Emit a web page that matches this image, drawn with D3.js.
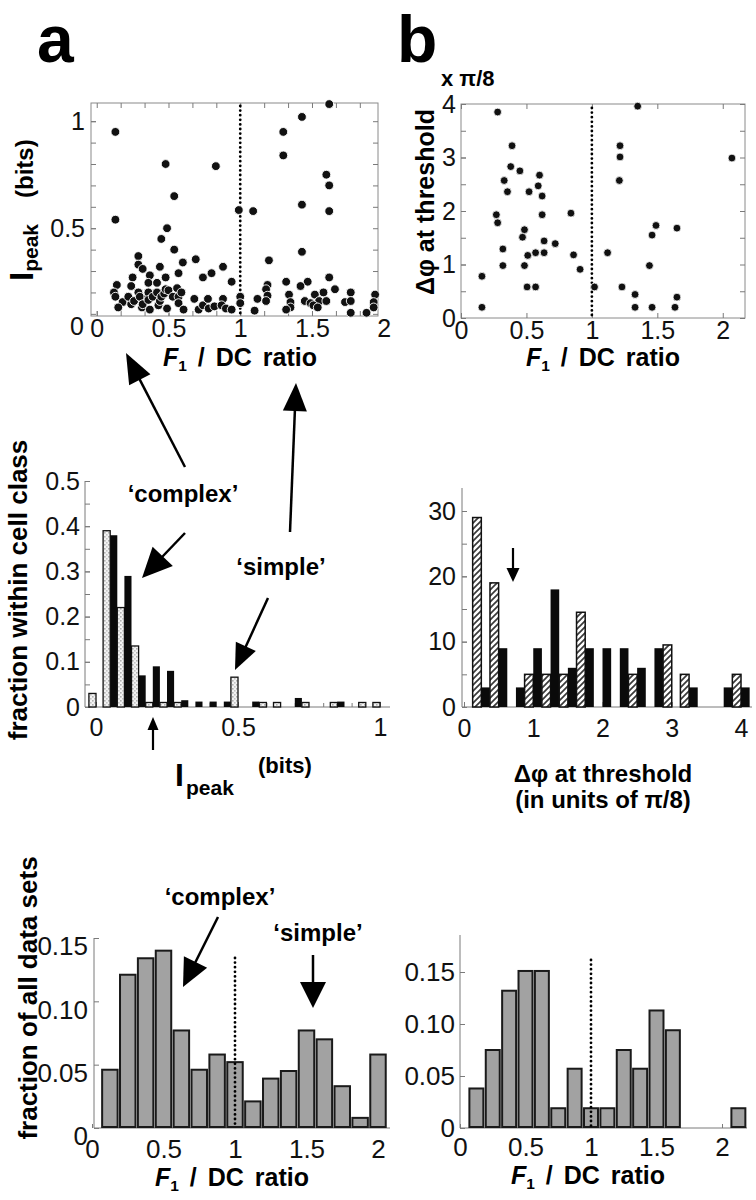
<!DOCTYPE html>
<html><head><meta charset="utf-8">
<script src="https://cdn.jsdelivr.net/npm/d3@7"></script>
<style>body{margin:0;background:#fff}svg{display:block}</style>
</head><body>
<svg id="fig" width="756" height="1200"></svg>
<script>
// ---------------- DATA ----------------
// Panel a (top): F1/DC ratio vs I_peak (bits)
const a1Ratio = [0.13,0.13,0.48,0.83,0.54,0.49,0.45,0.54,0.29,0.29,0.32,0.44,0.60,0.69,0.57,0.25,0.37,0.48,0.74,0.80,0.88,0.94,
  0.99,1.09,1.30,1.30,1.43,1.62,1.60,1.62,1.62,1.43,1.43,1.20,1.62,1.47,1.42,1.32,1.19,1.18,1.66,1.77,1.94,1.58,1.52,1.34,1.19,
  1.12,1.18,1.45,1.49,1.55,1.60,1.51,1.54,1.35,1.35,1.32,1.00,1.00,1.10,1.73,1.77,1.77,1.88,1.93,1.93,
  0.14,0.12,0.13,0.18,0.15,0.24,0.22,0.24,0.26,0.29,0.30,0.315,0.32,0.36,0.36,0.36,0.36,0.37,0.39,0.42,0.42,0.43,0.44,0.45,
  0.47,0.48,0.49,0.50,0.53,0.56,0.57,0.57,0.59,0.605,0.68,0.71,0.74,0.775,0.78,0.82,0.88,0.87,0.90,0.94];
const a1Ipeak = [0.95,0.54,0.80,0.79,0.65,0.50,0.45,0.40,0.37,0.33,0.31,0.32,0.34,0.355,0.29,0.27,0.28,0.27,0.27,0.29,0.32,0.25,
  0.585,0.58,0.95,0.84,1.02,1.08,0.75,0.70,0.58,0.61,0.39,0.35,0.27,0.25,0.23,0.25,0.235,0.215,0.215,0.20,0.19,0.20,0.19,0.19,0.185,
  0.17,0.16,0.16,0.15,0.16,0.16,0.14,0.13,0.155,0.13,0.12,0.18,0.15,0.115,0.155,0.16,0.105,0.105,0.155,0.13,
  0.235,0.20,0.18,0.155,0.13,0.145,0.18,0.23,0.16,0.20,0.18,0.13,0.145,0.18,0.20,0.165,0.245,0.12,0.18,0.20,0.245,0.14,0.16,0.18,
  0.195,0.215,0.125,0.21,0.18,0.22,0.18,0.15,0.20,0.12,0.17,0.12,0.14,0.17,0.125,0.135,0.17,0.14,0.125,0.12];

// Panel b (top): F1/DC ratio vs delta-phi at threshold (x pi/8)
const b1Ratio = [0.16,0.16,0.28,0.27,0.28,0.32,0.32,0.33,0.355,0.39,0.38,0.45,0.47,0.485,0.485,0.505,0.51,0.52,0.57,0.57,
  0.59,0.60,0.62,0.62,0.635,0.635,0.72,0.84,0.86,0.91,1.02,1.12,1.21,1.215,1.215,1.23,1.35,1.33,1.33,1.44,1.46,1.49,1.46,
  1.65,1.65,1.635,2.07];
const b1Dphi = [0.2,0.78,3.85,1.93,1.78,1.29,0.98,2.57,2.36,3.22,2.83,2.75,1.51,1.65,0.98,0.58,1.17,2.36,0.58,1.22,
  2.47,2.67,2.28,1.93,1.44,1.22,1.39,1.96,1.18,0.91,0.58,1.22,2.57,3.01,3.22,0.58,3.96,0.44,0.2,0.98,1.55,1.73,0.2,
  1.68,0.39,0.2,2.99];

// Panel a (middle): I_peak histogram, fraction within cell class
const ipeakBins = [0,0.05,0.1,0.15,0.2,0.25,0.3,0.35,0.4,0.45,0.5,0.55,0.6,0.65,0.7,0.75,0.8,0.85,0.9,0.95,1.0];
const ipeakSimple  = [0.03,0.39,0.22,0.135,0.01,0.01,0.01,0,0,0,0.066,0,0.01,0.01,0,0.01,0,0.01,0,0.01,0.01];
const ipeakComplex = [0,0.38,0.29,0.07,0.09,0.08,0.015,0.012,0.012,0.012,0,0.012,0,0,0.02,0,0,0.012,0,0,0];

// Panel b (middle): delta-phi histogram (units of pi/8)
const dphiBins = [0.25,0.5,0.75,1,1.25,1.5,1.75,2,2.25,2.5,2.75,3,3.25,3.5,3.75,4];
const dphiSimple  = [29,19,0,5,5,5,14.5,0,0,5,0,9.5,5,0,0,5];
const dphiComplex = [3,9,3,9,18,6,9,9,9,6,9,0,3,0,3,3];

// Panel a (bottom): F1/DC ratio histogram, fraction of all data sets
const f1AllBins = [0.125,0.25,0.375,0.5,0.625,0.75,0.875,1,1.125,1.25,1.375,1.5,1.625,1.75,1.875,2];
const f1AllFrac = [0.046,0.121,0.134,0.140,0.077,0.046,0.058,0.052,0.021,0.039,0.045,0.077,0.070,0.033,0.008,0.058];

// Panel b (bottom): F1/DC ratio histogram
const f1SubBins = [0.125,0.25,0.375,0.5,0.625,0.75,0.875,1,1.125,1.25,1.375,1.5,1.625,1.75,1.875,2,2.125];
const f1SubFrac = [0.038,0.075,0.132,0.151,0.151,0.019,0.057,0.019,0.019,0.075,0.057,0.113,0.094,0,0,0,0.019];

// Tick labels
const tickRatio = [0,0.5,1,1.5,2];
const tickIpeakY = [0.5,1];
const tickDphiY = [0,1,2,3,4];
const tickFracY = [0,0.1,0.2,0.3,0.4,0.5];
const tickIpeakX = [0,0.5,1];
const tickCountY = [0,10,20,30];
const tickDphiX = [0,1,2,3,4];
const tickFrac3 = [0,0.05,0.10,0.15];

// ---------------- DRAW ----------------
const FONT = '"Liberation Sans", Arial, Helvetica, sans-serif';
const svg = d3.select('#fig').attr('font-family', FONT);
const defs = svg.append('defs');
const sp = defs.append('pattern').attr('id','speck').attr('patternUnits','userSpaceOnUse').attr('width',4).attr('height',4);
sp.append('rect').attr('width',4).attr('height',4).attr('fill','#f2f2f2');
sp.append('rect').attr('width',1.6).attr('height',1.6).attr('fill','#b0b0b0');
sp.append('rect').attr('x',2).attr('y',2).attr('width',1.6).attr('height',1.6).attr('fill','#c4c4c4');
const hp = defs.append('pattern').attr('id','hatch').attr('patternUnits','userSpaceOnUse').attr('width',6).attr('height',6);
hp.append('rect').attr('width',6).attr('height',6).attr('fill','#fff');
hp.append('path').attr('d','M-1,1L1,-1M0,6L6,0M5,7L7,5').attr('stroke','#3a3a3a').attr('stroke-width',1.7);

const AX = '#7a7a7a';
function axis(gen, transform, values, inner, pad, fmt, fs, hideVals) {
  const a = svg.append('g').attr('transform', transform)
    .call(gen.tickValues(values).tickSizeInner(inner).tickSizeOuter(0).tickPadding(pad).tickFormat(fmt));
  a.select('.domain').remove();
  a.selectAll('line').attr('stroke', AX).attr('stroke-width', 1);
  a.selectAll('text').attr('font-size', fs).attr('fill', '#111').attr('font-family', FONT);
  if (hideVals) a.selectAll('.tick').filter(d => hideVals.includes(d)).select('line').remove();
  return a;
}
const blank = () => '';
function hline(x1, x2, y) { svg.append('line').attr('x1',x1).attr('x2',x2).attr('y1',y).attr('y2',y).attr('stroke',AX).attr('stroke-width',1); }
function vline(x, y1, y2) { svg.append('line').attr('x1',x).attr('x2',x).attr('y1',y1).attr('y2',y2).attr('stroke',AX).attr('stroke-width',1); }
function dotted(x, y1, y2) {
  svg.append('line').attr('x1',x).attr('x2',x).attr('y1',y1).attr('y2',y2)
    .attr('stroke','#000').attr('stroke-width',2.8).attr('stroke-linecap','round').attr('stroke-dasharray','0 4.6');
}
const ann = svg.append('g').attr('class','annotations');
function arrow(x1, y1, x2, y2, hl, hw, lw) {
  const dx = x2 - x1, dy = y2 - y1, L = Math.hypot(dx, dy), ux = dx / L, uy = dy / L;
  const bx = x2 - ux * hl, by = y2 - uy * hl;
  ann.append('line').attr('x1',x1).attr('y1',y1).attr('x2',bx + ux*2).attr('y2',by + uy*2).attr('stroke','#000').attr('stroke-width',lw);
  ann.append('path').attr('d',`M${x2},${y2}L${bx - uy*hw/2},${by + ux*hw/2}L${bx + uy*hw/2},${by - ux*hw/2}Z`).attr('fill','#000');
}
function boldText(x, y, str, fs, anchor) {
  return svg.append('text').attr('x',x).attr('y',y).attr('font-size',fs).attr('font-weight','bold')
    .attr('text-anchor',anchor || 'middle').attr('fill','#000').text(str);
}
function f1Title(cx, y, fs) {
  const t = svg.append('text').attr('x',cx).attr('y',y).attr('font-size',fs).attr('font-weight','bold')
    .attr('text-anchor','middle').attr('fill','#000').attr('word-spacing', 4);
  t.append('tspan').attr('font-style','italic').text('F');
  t.append('tspan').attr('font-size', fs*0.62).attr('dy', 5).text('1');
  t.append('tspan').attr('dy', -5).text('\u00a0/ DC ratio');
}

// Panel letters
boldText(37, 62, 'a', 66, 'start');
boldText(397, 62, 'b', 66, 'start');

// ===== Panel a top: scatter =====
{
  const x = d3.scaleLinear().domain([-0.04, 1.96]).range([91, 378]);
  const y = d3.scaleLinear().domain([0.09, 1.085]).range([316, 103]);
  svg.append('rect').attr('x',91).attr('y',103).attr('width',287).attr('height',213)
    .attr('fill','none').attr('stroke','#8a8a8a').attr('stroke-width',1);
  const yMinor = d3.range(0.1, 1.05, 0.1);
  axis(d3.axisLeft(y), 'translate(91,0)', yMinor, -5, 0, blank, 1);
  axis(d3.axisRight(y), 'translate(378,0)', yMinor, -5, 0, blank, 1);
  const xMinor = d3.range(0, 1.95, 1/6);
  axis(d3.axisBottom(x), 'translate(0,316)', xMinor, -5, 0, blank, 1);
  axis(d3.axisTop(x), 'translate(0,103)', xMinor, -5, 0, blank, 1);
  axis(d3.axisLeft(y), 'translate(91,0)', tickIpeakY, -5, 6, d => String(d), 25);
  axis(d3.axisBottom(x), 'translate(0,316)', tickRatio, -5, 3, d => String(d), 25, [2]);
  svg.append('text').attr('x', 84).attr('y', 335).attr('font-size',25).attr('text-anchor','end').attr('fill','#111').text('0');
  dotted(x(1), 106, 314);
  svg.append('g').selectAll('circle').data(a1Ratio).join('circle')
    .attr('cx', d => x(d)).attr('cy', (d, i) => y(a1Ipeak[i])).attr('r', 4.4)
    .attr('fill', '#111').attr('stroke', '#fff').attr('stroke-width', 0.9);
  const t = svg.append('text').attr('transform','translate(33,281) rotate(-90)').attr('font-weight','bold').attr('fill','#000');
  t.append('tspan').attr('font-size',33).text('I');
  t.append('tspan').attr('font-size',21).attr('dy',5).text('peak');
  t.append('tspan').attr('font-size',24).attr('x',83).attr('dy',-5).text('(bits)');
  f1Title(240, 366, 25);
}

// ===== Panel b top: scatter =====
{
  const x = d3.scaleLinear().domain([0, 2.17]).range([461, 745]);
  const y = d3.scaleLinear().domain([0, 4]).range([318, 104]);
  svg.append('rect').attr('x',461).attr('y',104).attr('width',284).attr('height',214)
    .attr('fill','none').attr('stroke','#8a8a8a').attr('stroke-width',1);
  const yMinor = d3.range(0, 4.01, 0.5);
  axis(d3.axisRight(y), 'translate(745,0)', yMinor, -5, 0, blank, 1);
  axis(d3.axisLeft(y), 'translate(461,0)', yMinor, -5, 0, blank, 1);
  axis(d3.axisTop(x), 'translate(0,104)', tickRatio, -5, 0, blank, 1);
  axis(d3.axisLeft(y), 'translate(461,0)', tickDphiY, -5, 5, d => String(d), 25);
  axis(d3.axisBottom(x), 'translate(0,318)', tickRatio, -5, 3, d => String(d), 25);
  dotted(x(1), 108, 316);
  svg.append('g').selectAll('circle').data(b1Ratio).join('circle')
    .attr('cx', d => x(d)).attr('cy', (d, i) => y(b1Dphi[i])).attr('r', 3.9)
    .attr('fill', '#111').attr('stroke', '#fff').attr('stroke-width', 0.8);
  svg.append('text').attr('transform','translate(434,202) rotate(-90)').attr('text-anchor','middle')
    .attr('font-size',25).attr('font-weight','bold').attr('fill','#000').text('\u0394\u03c6 at threshold');
  boldText(441, 86, 'x \u03c0/8', 22, 'start');
  f1Title(603, 366, 25);
}

// ===== Panel a middle: I_peak histogram =====
{
  const x = d3.scaleLinear().domain([0, 1]).range([96, 380]);
  const y = d3.scaleLinear().domain([0, 0.5]).range([707, 481]);
  const hw = 0.025;
  vline(85, 481, 707); hline(85, 390, 707);
  axis(d3.axisLeft(y), 'translate(85,0)', d3.range(0, 0.51, 0.05), -5, 0, blank, 1);
  axis(d3.axisLeft(y), 'translate(85,0)', tickFracY, -5, 5, d => String(d), 25);
  axis(d3.axisBottom(x), 'translate(0,707)', d3.range(0, 1.01, 0.1), -4, 0, blank, 1);
  axis(d3.axisBottom(x), 'translate(0,707)', tickIpeakX, -5, 11, d => String(d), 25);
  const g = svg.append('g');
  ipeakBins.forEach((b, i) => {
    if (ipeakSimple[i] > 0) g.append('rect').attr('x', x(b - hw)).attr('width', x(b) - x(b - hw))
      .attr('y', y(ipeakSimple[i])).attr('height', y(0) - y(ipeakSimple[i]))
      .attr('fill','url(#speck)').attr('stroke','#111').attr('stroke-width',1.3);
    if (ipeakComplex[i] > 0) g.append('rect').attr('x', x(b)).attr('width', x(b + hw) - x(b))
      .attr('y', y(ipeakComplex[i])).attr('height', y(0) - y(ipeakComplex[i])).attr('fill','#0a0a0a');
  });
  svg.append('text').attr('transform','translate(27,590) rotate(-90)').attr('text-anchor','middle')
    .attr('font-size',26).attr('font-weight','bold').attr('fill','#000').text('fraction within cell class');
  boldText(175, 786, 'I', 32, 'start');
  boldText(186, 795, 'peak', 21, 'start');
  boldText(258, 773, '(bits)', 22, 'start');
  boldText(183, 502, '\u2018complex\u2019', 24);
  boldText(281, 575, '\u2018simple\u2019', 24);
}

// ===== Panel b middle: delta-phi histogram =====
{
  const x = d3.scaleLinear().domain([0, 4]).range([464, 741]);
  const y = d3.scaleLinear().domain([0, 30]).range([707, 511]);
  const hw = 0.125;
  vline(462, 488, 707); hline(462, 752, 707);
  axis(d3.axisLeft(y), 'translate(462,0)', d3.range(0, 31, 5), -5, 0, blank, 1);
  axis(d3.axisLeft(y), 'translate(462,0)', tickCountY, -5, 6, d => String(d), 25);
  axis(d3.axisBottom(x), 'translate(0,707)', tickDphiX, -5, 12, d => String(d), 25);
  const g = svg.append('g');
  dphiBins.forEach((b, i) => {
    if (dphiSimple[i] > 0) g.append('rect').attr('x', x(b - hw)).attr('width', x(b) - x(b - hw))
      .attr('y', y(dphiSimple[i])).attr('height', y(0) - y(dphiSimple[i]))
      .attr('fill','url(#hatch)').attr('stroke','#111').attr('stroke-width',1.5);
    if (dphiComplex[i] > 0) g.append('rect').attr('x', x(b)).attr('width', x(b + hw) - x(b))
      .attr('y', y(dphiComplex[i])).attr('height', y(0) - y(dphiComplex[i])).attr('fill','#0a0a0a');
  });
  boldText(603, 782, '\u0394\u03c6 at threshold', 24);
  boldText(603, 808, '(in units of \u03c0/8)', 24);
}

// ===== Panel a bottom: F1/DC histogram =====
{
  const x = d3.scaleLinear().domain([0, 2]).range([92, 378]);
  const y = d3.scaleLinear().domain([0, 0.15]).range([1128, 938]);
  const bw = 0.125;
  vline(94, 938, 1128); hline(94, 390, 1128);
  const ya = axis(d3.axisLeft(y), 'translate(94,0)', tickFrac3, -5, 6, d => d === 0 ? '0' : d3.format('.2f')(d), 26);
  ya.selectAll('text').attr('dy', '0.65em');
  axis(d3.axisBottom(x), 'translate(0,1128)', tickRatio, -4, 12, d => String(d), 26);
  svg.append('g').selectAll('rect').data(f1AllBins).join('rect')
    .attr('x', d => x(d - bw/2) + 1.2).attr('width', d => x(d + bw/2) - x(d - bw/2) - 2.4)
    .attr('y', (d, i) => y(f1AllFrac[i])).attr('height', (d, i) => y(0) - y(f1AllFrac[i]) - 1)
    .attr('fill','#a2a2a2').attr('stroke','#1a1a1a').attr('stroke-width',2);
  dotted(x(1), 958, 1126);
  svg.append('text').attr('transform','translate(37,998) rotate(-90)').attr('text-anchor','middle')
    .attr('font-size',26).attr('font-weight','bold').attr('fill','#000').text('fraction of all data sets');
  boldText(220, 905, '\u2018complex\u2019', 24);
  boldText(318, 941, '\u2018simple\u2019', 24);
  f1Title(232, 1186, 25);
}

// ===== Panel b bottom: F1/DC histogram =====
{
  const x = d3.scaleLinear().domain([0, 2]).range([460, 722]);
  const y = d3.scaleLinear().domain([0, 0.15]).range([1128, 972]);
  const bw = 0.125;
  vline(460, 935, 1128); hline(460, 747, 1128);
  axis(d3.axisLeft(y), 'translate(460,0)', tickFrac3, -5, 5, d => d === 0 ? '0' : d3.format('.2f')(d), 26);
  axis(d3.axisBottom(x), 'translate(0,1128)', tickRatio, -4, 10, d => String(d), 26);
  f1SubBins.forEach((b, i) => {
    if (f1SubFrac[i] > 0) svg.append('rect')
      .attr('x', x(b - bw/2) + 1.2).attr('width', x(b + bw/2) - x(b - bw/2) - 2.4)
      .attr('y', y(f1SubFrac[i])).attr('height', y(0) - y(f1SubFrac[i]) - 1)
      .attr('fill','#a2a2a2').attr('stroke','#1a1a1a').attr('stroke-width',2);
  });
  dotted(x(1), 960, 1126);
  f1Title(588, 1184, 25);
}

// ===== Arrows =====
arrow(185, 467, 126, 353, 30, 24, 2.5);   // complex -> top scatter
arrow(290, 532, 296, 383, 28, 24, 2.5);   // simple -> top scatter
arrow(185, 533, 142, 578, 30, 28, 2.5);   // complex -> bars
arrow(268, 598, 235, 670, 26, 22, 2.5);   // simple -> bar at 0.5
arrow(153, 750, 153, 717, 13, 11, 2.2);   // median I_peak
arrow(513, 548, 513, 582, 14, 13, 2.2);   // delta-phi marker
arrow(218, 917, 183, 987, 28, 26, 2.5);   // complex (bottom)
arrow(313, 955, 313, 1008, 26, 26, 2.5);  // simple (bottom)
</script>
</body></html>
